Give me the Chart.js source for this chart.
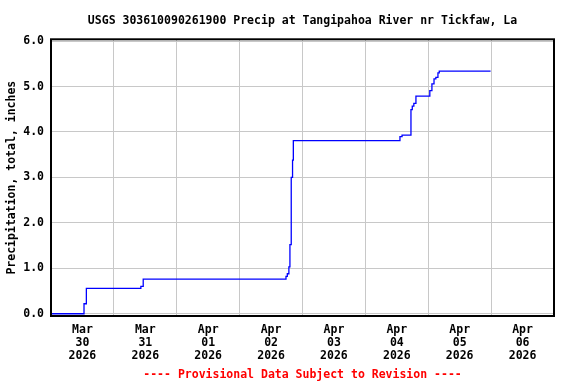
<!DOCTYPE html>
<html>
<head>
<meta charset="utf-8">
<script src="https://cdn.jsdelivr.net/npm/chart.js@4.4.1/dist/chart.umd.min.js"></script>
<style>
  html, body { margin:0; padding:0; background:#fff; }
</style>
</head>
<body>
<canvas id="chart" width="576" height="384"></canvas>
<script>
// hours since Mar 30 2026 00:00, cumulative precipitation (inches)
const HOURS  = [0, 12.6, 13.5, 34.3, 35.2, 89.7, 90.2, 90.8, 91.2, 91.7, 92.2, 92.5,
                133.2, 134.0, 137.4, 137.9, 138.5, 139.3, 144.6, 145.4, 146.2, 146.9, 147.7, 148.2, 167.8];
const PRECIP = [0, 0.22, 0.56, 0.60, 0.76, 0.82, 0.88, 1.03, 1.52, 3.00, 3.38, 3.81,
                3.90, 3.93, 4.49, 4.57, 4.63, 4.79, 4.91, 5.06, 5.17, 5.20, 5.30, 5.34, 5.34];
const DAY_LABELS = [['Mar','30','2026'], ['Mar','31','2026'], ['Apr','01','2026'], ['Apr','02','2026'],
                    ['Apr','03','2026'], ['Apr','04','2026'], ['Apr','05','2026'], ['Apr','06','2026']];
const Y_TICKS = [0, 1, 2, 3, 4, 5, 6];

const FONT = { family:'"DejaVu Sans Mono", monospace', size:11.5, weight:'bold' };

// black frame round the plot
const frame = {
  id:'frame',
  afterDraw(chart){
    const { ctx, chartArea:a } = chart;
    ctx.save();
    ctx.strokeStyle = '#000';
    ctx.lineWidth = 2;
    ctx.strokeRect(a.left, a.top, a.right - a.left, a.bottom - a.top);
    ctx.restore();
  }
};

new Chart(document.getElementById('chart'), {
  type:'line',
  data:{
    datasets:[{
      data: HOURS.map((h, i) => ({ x:h, y:PRECIP[i] })),
      borderColor:'#0000ff', borderWidth:1.3, pointRadius:0, stepped:'before', fill:false
    }]
  },
  options:{
    responsive:false, animation:false, devicePixelRatio:1,
    layout:{ padding:{ left:0, right:22, top:0, bottom:0 } },
    plugins:{
      legend:{ display:false },
      tooltip:{ enabled:false },
      title:{
        display:true, fullSize:false, color:'#000', font:FONT,
        text:'USGS 303610090261900 Precip at Tangipahoa River nr Tickfaw, La',
        padding:{ top:14, bottom:11.5 }
      },
      subtitle:{
        display:true, fullSize:false, position:'bottom', color:'#ff0000', font:FONT,
        text:'---- Provisional Data Subject to Revision ----',
        padding:{ top:0, bottom:1.6 }
      }
    },
    scales:{
      x:{
        type:'linear', min:0, max:192,
        grid:{ color:'#c8c8c8', offset:true, drawTicks:false },
        border:{ display:false },
        afterBuildTicks: s => { s.ticks = DAY_LABELS.map((_, i) => ({ value:12 + 24*i })); },
        afterFit: s => { s.height = 52.6; },
        ticks:{ color:'#000', font:{ ...FONT, lineHeight:1.13 }, padding:8, maxRotation:0, autoSkip:false,
                callback:(v, i) => DAY_LABELS[i] }
      },
      y:{
        min:-0.05, max:6.04,
        grid:{ color:'#c8c8c8', drawTicks:false },
        border:{ display:false },
        afterBuildTicks: s => { s.ticks = Y_TICKS.map(v => ({ value:v })); },
        afterFit: s => { s.width = 51; },
        ticks:{ color:'#000', font:FONT, padding:7, callback:v => v.toFixed(1) },
        title:{ display:true, text:'Precipitation, total, inches', color:'#000', font:FONT,
                padding:{ top:5, bottom:0 } }
      }
    }
  },
  plugins:[frame]
});
</script>
</body>
</html>
